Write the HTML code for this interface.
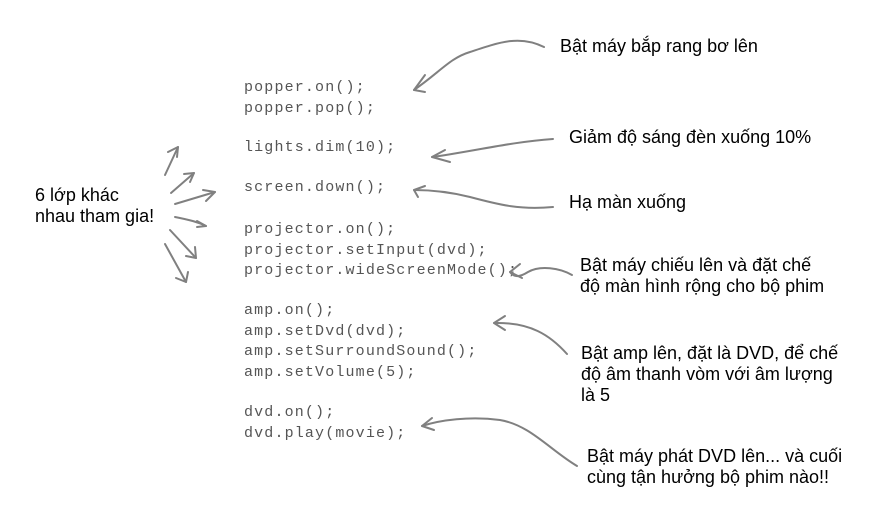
<!DOCTYPE html>
<html><head><meta charset="utf-8"><style>
body{margin:0;width:896px;height:517px;background:#fff;position:relative;overflow:hidden}
.c{position:absolute;left:244px;font:15px "Liberation Mono",monospace;letter-spacing:1.15px;color:#555;white-space:pre;line-height:20.5px}
.t{position:absolute;font:18px "Liberation Sans","Noto Sans CJK SC",sans-serif;color:#000;line-height:21px}
svg{position:absolute;left:0;top:0}
</style></head><body>
<div class="c" style="top:78px">popper.on();
popper.pop();</div>
<div class="c" style="top:138px">lights.dim(10);</div>
<div class="c" style="top:178px">screen.down();</div>
<div class="c" style="top:220px">projector.on();
projector.setInput(dvd);
projector.wideScreenMode();</div>
<div class="c" style="top:301px">amp.on();
amp.setDvd(dvd);
amp.setSurroundSound();
amp.setVolume(5);</div>
<div class="c" style="top:403px">dvd.on();
dvd.play(movie);</div>

<div class="t" style="left:35px;top:185px">6 lớp khác<br>nhau tham gia!</div>
<div class="t" style="left:560px;top:36px">Bật máy bắp rang bơ lên</div>
<div class="t" style="left:569px;top:127px">Giảm độ sáng đèn xuống 10%</div>
<div class="t" style="left:569px;top:192px">Hạ màn xuống</div>
<div class="t" style="left:580px;top:255px">Bật máy chiếu lên và đặt chế<br>độ màn hình rộng cho bộ phim</div>
<div class="t" style="left:581px;top:343px">Bật amp lên, đặt là DVD, để chế<br>độ âm thanh vòm với âm lượng<br>là 5</div>
<div class="t" style="left:587px;top:446px">Bật máy phát DVD lên... và cuối<br>cùng tận hưởng bộ phim nào!!</div>

<svg width="896" height="517" fill="none" stroke="#808080" stroke-width="2" stroke-linecap="round">
<path d="M544 47 C520 35 500 42 470 52 C450 58 440 72 414 90"/><path d="M414 90 L425 75 M414 90 L425 92"/>
<path d="M553 139 C510 142 470 152 432 157"/><path d="M432 157 L445 150 M432 157 L450 162"/>
<path d="M553 207 C520 210 500 205 470 197 C450 192 430 190 414 190"/><path d="M414 190 L425 186 M414 190 L418 197"/>
<path d="M572 275 C560 268 540 265 528 272 C520 277 514 278 510 272"/><path d="M510 272 L520 264 M510 272 L522 278"/>
<path d="M567 354 C550 335 530 322 494 323"/><path d="M494 323 L505 316 M494 323 L505 330"/>
<path d="M577 466 C550 450 530 425 500 420 C470 416 440 420 422 426"/><path d="M422 426 L432 418 M422 426 L434 430"/>
<path d="M165 175 L178 147"/><path d="M178 147 L168 152 M178 147 L177 157"/>
<path d="M171 193 L194 173"/><path d="M194 173 L184 174 M194 173 L190 182"/>
<path d="M175 204 L215 192"/><path d="M215 192 L203 190 M215 192 L206 201"/>
<path d="M175 217 C190 220 198 222 206 226"/><path d="M206 226 L197 221 M206 226 L197 227"/>
<path d="M170 230 L196 258"/><path d="M196 258 L186 256 M196 258 L195 247"/>
<path d="M165 244 L186 282"/><path d="M186 282 L176 278 M186 282 L188 272"/>
</svg>
</body></html>
